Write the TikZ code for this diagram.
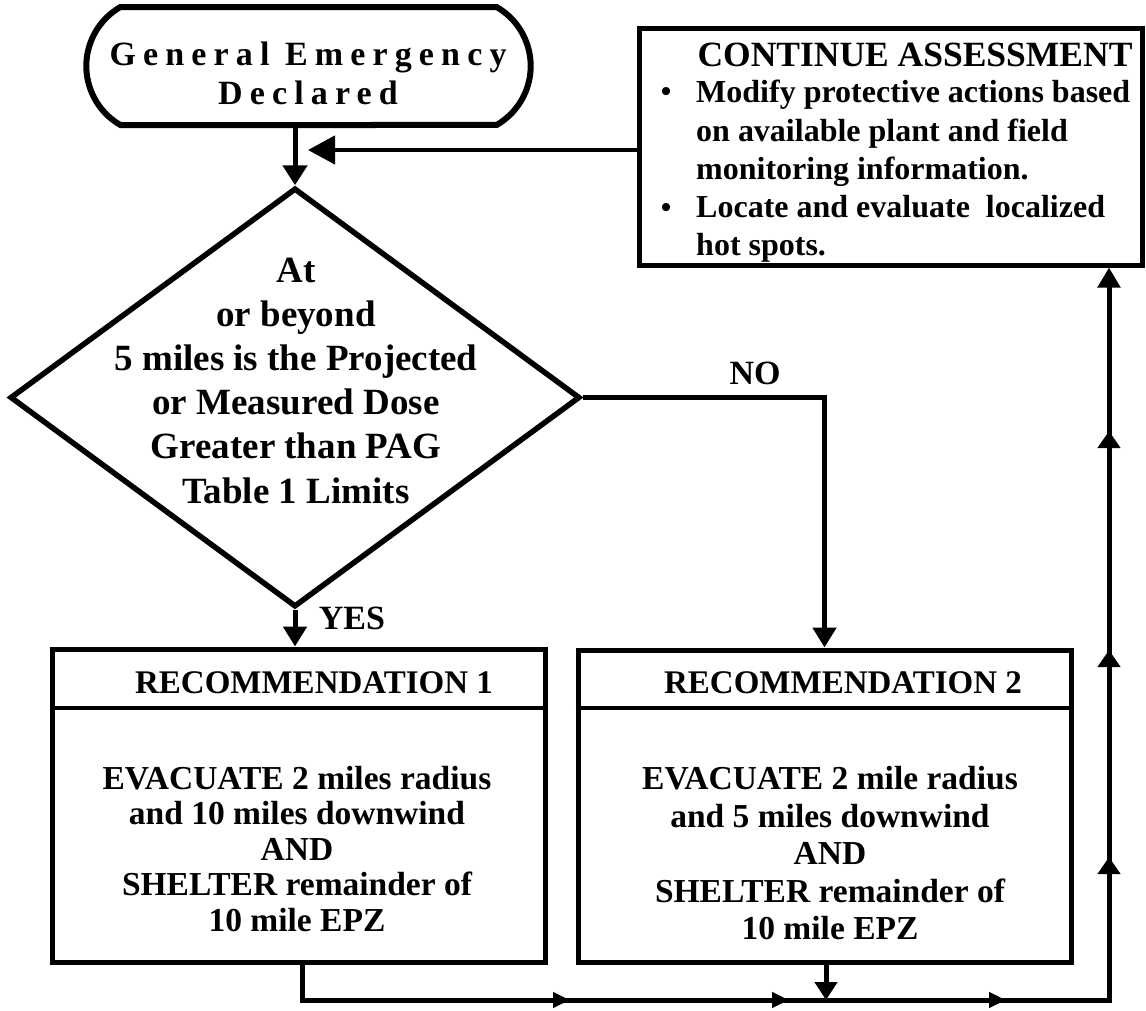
\documentclass[tikz,border=0pt]{standalone}
\usepackage{fontspec}
\setmainfont{Liberation Serif}
\usetikzlibrary{arrows.meta,shapes.geometric,shapes.misc,decorations.markings}
\tikzset{
  ln/.style={line width=5pt},
  bigtip/.style={-{Triangle[length=20pt,width=24pt]}},
  startbox/.style={draw, rounded rectangle, rounded rectangle arc length=120, line width=6pt, minimum width=451pt, minimum height=118pt},
  decbox/.style={draw, diamond, line width=5.5pt, minimum width=570pt, minimum height=419pt, inner sep=0pt},
  recbox/.style={draw, rectangle, line width=5pt, minimum width=493pt, minimum height=313pt},
  contbox/.style={draw, rectangle, line width=5pt, minimum width=503pt, minimum height=237pt},
  lbl/.style={inner sep=0pt, font=\bfseries\fontsize{34}{40}\selectfont},
  hdr/.style={inner sep=0pt, font=\bfseries\fontsize{33}{37}\selectfont},
  body/.style={inner sep=0pt, align=center, font=\bfseries\fontsize{33.5}{#1}\selectfont},
  midarrows/.style={postaction=decorate, decoration={markings,
     mark=at position 303.5pt with {\arrow{Triangle[length=17pt,width=15pt]}},
     mark=at position 522.5pt with {\arrow{Triangle[length=17pt,width=15pt]}},
     mark=at position 739.5pt with {\arrow{Triangle[length=17pt,width=15pt]}},
     mark=at position 985.5pt with {\arrow{Triangle[length=17pt,width=22pt]}},
     mark=at position 1192.5pt with {\arrow{Triangle[length=17pt,width=22pt]}},
     mark=at position 1411.5pt with {\arrow{Triangle[length=17pt,width=22pt]}}}},
}
\begin{document}
\begin{tikzpicture}[x=1pt,y=-1pt]
\useasboundingbox (0,0) rectangle (1146,1010);
\fill[white] (0,0) rectangle (1146,1010);

% shapes
\node[startbox] (start) at (308.5,66) {};
\node[inner sep=0pt, align=center, font=\bfseries\fontsize{34}{39}\selectfont\addfontfeature{LetterSpace=21}] (starttext) at (308,77.5)
  {\strut General Emergency\\\strut Declared};

\node[decbox] (dec) at (295,397.5) {};
\node[inner sep=0pt, align=center, font=\bfseries\fontsize{37}{44.2}\selectfont] (dectext) at (296,383.7)
  {\strut At\\\strut or beyond\\\strut 5 miles is the Projected\\\strut or Measured Dose\\\strut Greater than PAG\\\strut Table 1 Limits};

\node[contbox] (cont) at (890.5,146.5) {};
\node[inner sep=0pt, font=\bfseries\fontsize{35.5}{40}\selectfont] (conttitle) at (915,55) {CONTINUE ASSESSMENT};
\node[inner sep=0pt, anchor=west, align=left, font=\bfseries\fontsize{32}{38.2}\selectfont] (contbody) at (696,171.6)
  {\strut Modify protective actions based\\\strut on available plant and field\\\strut monitoring information.\\\strut Locate and evaluate\ \ localized\\\strut hot spots.};
\node[inner sep=0pt, font=\bfseries\fontsize{30}{36}\selectfont] (bul1) at (666,95) {\textbullet};
\node[inner sep=0pt, font=\bfseries\fontsize{30}{36}\selectfont] (bul2) at (666,210) {\textbullet};

\node[recbox] (rec1) at (298.5,805.5) {};
\node[recbox, minimum height=312pt] (rec2) at (824.5,806) {};
\coordinate (sepy) at (0,708);
\draw[line width=4.5pt] (rec1.west |- sepy) -- (rec1.east |- sepy);
\draw[line width=4.5pt] (rec2.west |- sepy) -- (rec2.east |- sepy);
\node[hdr] (rec1hdr) at (314,683) {RECOMMENDATION 1};
\node[hdr] (rec2hdr) at (843,683) {RECOMMENDATION 2};
\node[body=35.5] (rec1body) at (297,853)
  {\strut EVACUATE 2 miles radius\\\strut and 10 miles downwind\\\strut AND\\\strut SHELTER remainder of\\\strut 10 mile EPZ};
\node[body=37.5] (rec2body) at (830,857)
  {\strut EVACUATE 2 mile radius\\\strut and 5 miles downwind\\\strut AND\\\strut SHELTER remainder of\\\strut 10 mile EPZ};

\node[lbl] (yes) at (352,618) {YES};
\node[lbl] (no) at (755,373) {NO};

% connectors
\draw[ln, bigtip] (dec.north |- start.south) -- (dec.north);
\coordinate (fbtip) at (308,150);
\draw[line width=4.5pt, -{Triangle[length=27pt,width=28pt]}] (cont.west |- fbtip) -- (fbtip);
\draw[ln, -{Triangle[length=20pt,width=23pt]}] (dec.south) -- (dec.south |- rec1.north);
\draw[ln, -{Triangle[length=20pt,width=23pt]}] (dec.east) -| (rec2.north);

\coordinate (bl) at (302,1000);
\coordinate (br) at (1109,1000);
\coordinate (r2c) at (826,1000);
\draw[ln, midarrows, -{Triangle[length=20pt,width=22pt]}] (rec1.south -| bl) -- (bl) -- (br) -- (br |- cont.south);
\draw[ln, -{Triangle[length=18pt,width=22pt]}] (rec2.south -| r2c) -- (r2c);
\end{tikzpicture}
\end{document}
